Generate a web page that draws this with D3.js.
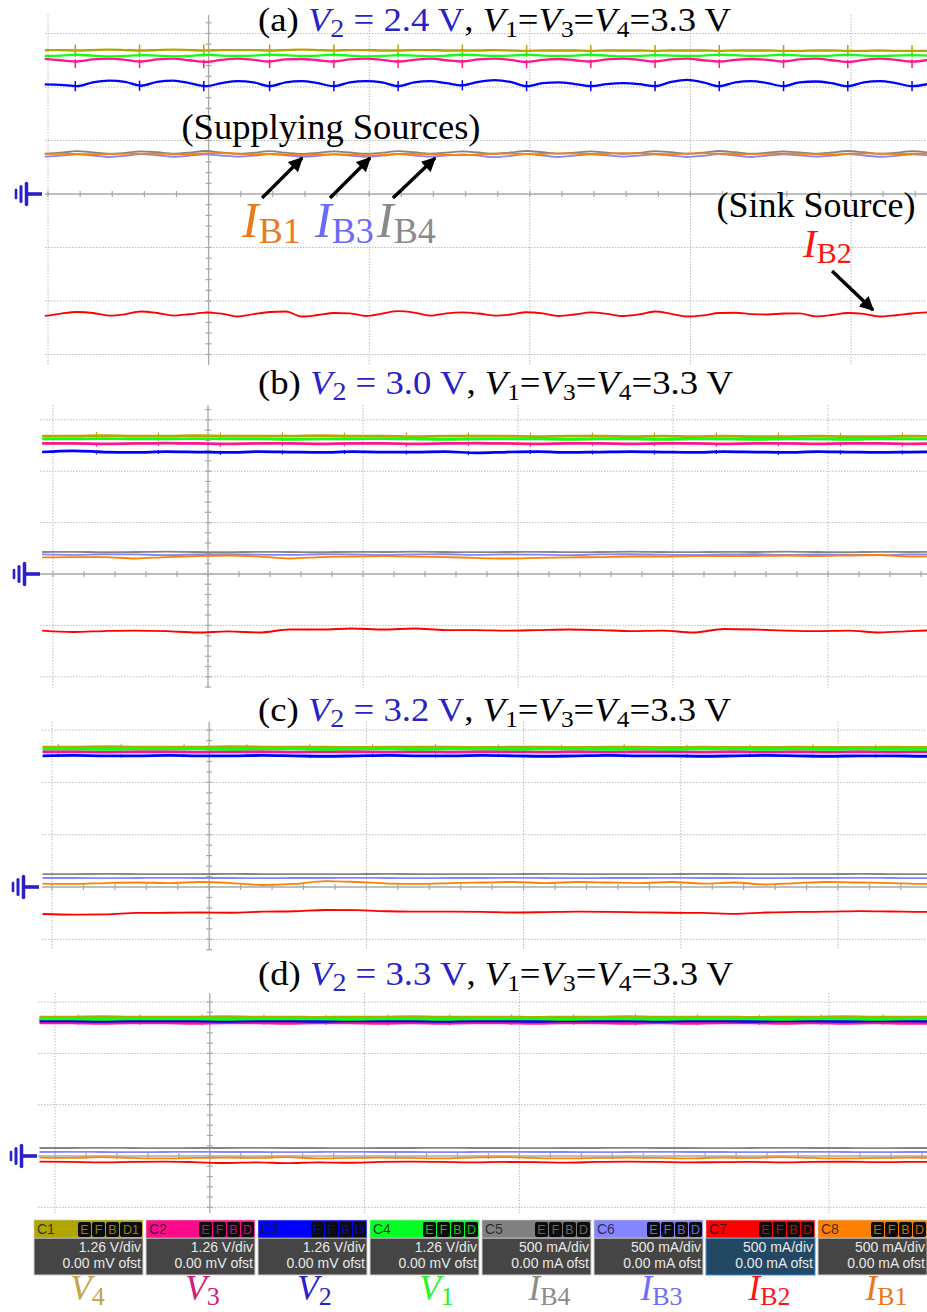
<!DOCTYPE html>
<html><head><meta charset="utf-8">
<script src="https://cdn.jsdelivr.net/npm/d3@7"></script>
<style>body{margin:0;background:#fff}svg{display:block}</style>
</head><body>
<svg id="chart" width="927" height="1312"></svg>
<script>
// ---------------- DATA ----------------
const VOLT_PER_DIV = 1.26;   // V/div
const MA_PER_DIV = 500;      // mA/div
const panelLabels = ['(a)', '(b)', '(c)', '(d)'];
const v2Setpoints = ['2.4', '3.0', '3.2', '3.3'];
const channelNames = ['C1','C2','C3','C4','C5','C6','C7','C8'];
const channelSignals = ['V4','V3','V2','V1','IB4','IB3','IB2','IB1'];
const channelScales = ['1.26 V/div','1.26 V/div','1.26 V/div','1.26 V/div','500 mA/div','500 mA/div','500 mA/div','500 mA/div'];
const channelOffsets = ['0.00 mV ofst','0.00 mV ofst','0.00 mV ofst','0.00 mV ofst','0.00 mA ofst','0.00 mA ofst','0.00 mA ofst','0.00 mA ofst'];

// Panel (a): V2 = 2.4 V  (samples every 0.1 div)
const V4a = [3.39,3.39,3.38,3.39,3.40,3.39,3.38,3.39,3.40,3.39,3.38,3.39,3.39,3.39,3.38,3.39,3.40,3.39,3.38,3.39,3.39,3.38,3.38,3.39,3.39,3.38,3.38,3.38,3.39,3.38,3.37,3.38,3.38,3.38,3.37,3.38,3.38,3.38,3.37,3.38,3.38,3.38,3.37,3.38,3.38,3.38,3.37,3.37,3.38,3.38,3.37,3.37,3.38,3.37,3.37,3.37];
const V1a = [3.25,3.26,3.28,3.26,3.24,3.25,3.27,3.26,3.24,3.25,3.28,3.26,3.25,3.26,3.28,3.27,3.25,3.26,3.28,3.26,3.24,3.25,3.27,3.26,3.24,3.26,3.28,3.27,3.25,3.26,3.28,3.26,3.25,3.26,3.28,3.26,3.24,3.25,3.27,3.26,3.25,3.26,3.28,3.27,3.25,3.26,3.28,3.26,3.25,3.26,3.28,3.26,3.25,3.26,3.27,3.26];
const V3a = [3.18,3.15,3.12,3.17,3.19,3.16,3.12,3.17,3.19,3.15,3.11,3.16,3.19,3.16,3.12,3.17,3.18,3.15,3.12,3.17,3.19,3.16,3.12,3.16,3.19,3.15,3.12,3.17,3.19,3.16,3.11,3.16,3.18,3.15,3.12,3.17,3.19,3.16,3.12,3.17,3.19,3.15,3.12,3.16,3.18,3.16,3.12,3.17,3.19,3.15,3.11,3.16,3.19,3.16,3.12,3.16];
const V2a = [2.58,2.57,2.54,2.63,2.67,2.64,2.55,2.64,2.67,2.61,2.54,2.61,2.66,2.63,2.54,2.63,2.66,2.61,2.54,2.63,2.66,2.63,2.54,2.63,2.66,2.61,2.56,2.64,2.68,2.64,2.54,2.61,2.63,2.59,2.54,2.59,2.61,2.59,2.54,2.64,2.69,2.63,2.54,2.63,2.66,2.61,2.54,2.63,2.65,2.61,2.54,2.63,2.66,2.61,2.54,2.59];
const IB4a = [378,386,400,388,376,384,398,390,378,386,402,388,376,386,400,386,374,384,398,388,376,386,400,390,378,386,398,388,376,388,402,390,378,386,398,386,376,384,400,390,378,386,402,390,376,386,398,388,378,388,402,390,376,386,400,388];
const IB3a = [350,358,370,360,346,356,372,362,348,358,370,360,350,358,372,362,348,356,370,360,348,358,372,360,350,358,370,358,344,356,372,360,346,358,370,362,350,358,370,358,346,356,372,360,346,358,370,362,350,358,372,360,348,356,370,362];
const IB1a = [374,376,374,372,374,375,378,376,374,372,380,382,376,372,374,370,362,366,372,368,360,366,374,376,374,368,364,370,376,378,372,374,380,378,374,376,382,380,376,372,376,380,378,374,372,376,380,376,372,370,376,380,378,374,376,380];
const IB2a = [-1140,-1117,-1103,-1112,-1136,-1124,-1098,-1112,-1136,-1124,-1108,-1117,-1145,-1123,-1103,-1098,-1145,-1131,-1112,-1115,-1140,-1117,-1095,-1108,-1137,-1115,-1106,-1117,-1136,-1126,-1105,-1115,-1140,-1126,-1106,-1120,-1140,-1126,-1098,-1120,-1145,-1134,-1112,-1110,-1122,-1126,-1117,-1115,-1143,-1131,-1112,-1120,-1145,-1133,-1117,-1106];

// Panel (b): V2 = 3.0 V  (samples every 0.2 div)
const V4b = [3.38,3.38,3.39,3.38,3.38,3.39,3.38,3.38,3.38,3.39,3.38,3.38,3.37,3.38,3.38,3.38,3.37,3.38,3.38,3.37,3.38,3.37,3.38,3.37,3.37,3.38,3.37,3.37,3.38,3.37];
const V1b = [3.31,3.31,3.32,3.31,3.31,3.32,3.31,3.31,3.30,3.31,3.31,3.32,3.31,3.30,3.31,3.31,3.31,3.30,3.31,3.31,3.30,3.31,3.31,3.30,3.31,3.31,3.30,3.31,3.31,3.31];
const V3b = [3.20,3.20,3.19,3.20,3.21,3.20,3.19,3.20,3.20,3.19,3.20,3.20,3.19,3.20,3.21,3.20,3.19,3.20,3.20,3.19,3.20,3.20,3.19,3.20,3.20,3.19,3.20,3.20,3.19,3.20];
const V2b = [2.99,3.02,2.99,2.98,3.00,2.99,2.98,3.00,2.99,2.98,3.00,2.99,2.99,3.00,2.97,2.99,3.00,2.98,2.99,3.00,2.99,2.98,3.00,2.99,2.98,3.00,2.99,2.98,2.99,3.00];
const IB4b = [214,216,212,214,218,214,212,216,214,212,216,214,218,214,212,214,216,212,214,218,214,212,216,214,218,214,212,216,214,216];
const IB3b = [190,186,192,190,184,190,192,188,186,192,190,186,190,192,186,190,188,184,190,192,188,186,190,192,186,190,188,184,190,190];
const IB1b = [161,165,165,151,165,175,180,170,151,165,170,175,170,165,156,151,156,161,165,170,170,175,175,175,180,175,180,185,170,175];
const IB2b = [-550,-564,-555,-550,-555,-569,-559,-569,-540,-540,-530,-540,-530,-545,-545,-550,-545,-540,-545,-555,-550,-569,-535,-540,-550,-555,-550,-569,-555,-545];

// Panel (c): V2 = 3.2 V
const V4c = [3.37,3.37,3.38,3.37,3.37,3.37,3.38,3.37,3.37,3.37,3.36,3.37,3.37,3.37,3.36,3.37,3.37,3.36,3.37,3.37,3.36,3.37,3.36,3.36,3.37,3.36,3.36,3.37,3.36,3.36];
const V1c = [3.33,3.33,3.32,3.33,3.33,3.33,3.32,3.33,3.33,3.32,3.33,3.33,3.32,3.33,3.33,3.32,3.33,3.33,3.32,3.33,3.32,3.33,3.33,3.32,3.33,3.32,3.33,3.32,3.32,3.33];
const V3c = [3.26,3.26,3.25,3.26,3.26,3.25,3.26,3.26,3.25,3.26,3.26,3.25,3.26,3.25,3.26,3.26,3.25,3.26,3.25,3.26,3.26,3.25,3.26,3.25,3.26,3.25,3.26,3.25,3.26,3.25];
const V2c = [3.16,3.17,3.16,3.16,3.17,3.16,3.16,3.17,3.16,3.15,3.16,3.17,3.16,3.16,3.17,3.16,3.15,3.16,3.17,3.16,3.16,3.15,3.16,3.17,3.16,3.15,3.16,3.16,3.15,3.16];
const IB4c = [124,124,125,124,123,124,125,124,124,123,124,125,124,124,123,124,125,124,124,123,124,125,124,123,124,124,125,124,123,124];
const IB3c = [86,86,85,86,87,86,86,85,86,86,87,86,85,86,86,87,86,85,86,86,87,86,86,85,86,86,87,86,85,86];
const IB1c = [33,29,38,43,38,48,38,19,29,57,48,33,29,38,43,48,38,48,43,38,48,33,43,24,38,48,43,38,29,38];
const IB2c = [-258,-264,-262,-248,-246,-244,-246,-236,-232,-220,-222,-232,-236,-236,-238,-244,-240,-236,-238,-242,-246,-248,-256,-244,-238,-236,-230,-234,-238,-236];

// Panel (d): V2 = 3.3 V
const V4d = [3.41,3.41,3.42,3.41,3.41,3.41,3.42,3.41,3.41,3.40,3.41,3.41,3.42,3.41,3.41,3.41,3.40,3.41,3.41,3.42,3.41,3.41,3.41,3.40,3.41,3.41,3.42,3.41,3.41,3.41];
const V1d = [3.37,3.37,3.36,3.37,3.37,3.37,3.36,3.37,3.37,3.37,3.36,3.37,3.37,3.36,3.37,3.37,3.37,3.36,3.37,3.37,3.36,3.37,3.37,3.37,3.36,3.37,3.37,3.36,3.37,3.37];
const V2d = [3.32,3.32,3.31,3.32,3.32,3.32,3.31,3.32,3.32,3.31,3.32,3.32,3.32,3.31,3.32,3.32,3.31,3.32,3.32,3.32,3.31,3.32,3.32,3.31,3.32,3.32,3.31,3.32,3.32,3.31];
const V3d = [3.27,3.27,3.26,3.27,3.27,3.26,3.27,3.27,3.26,3.27,3.27,3.26,3.27,3.26,3.27,3.27,3.26,3.27,3.27,3.26,3.27,3.26,3.27,3.27,3.26,3.27,3.26,3.27,3.26,3.26];
const IB4d = [78,78,79,78,77,78,78,79,78,78,77,78,78,79,78,78,77,78,78,79,78,78,77,78,79,78,78,77,78,78];
const IB3d = [39,40,39,38,39,40,39,39,38,39,40,39,39,38,39,40,39,39,38,39,40,39,39,38,39,40,39,38,39,39];
const IB1d = [-15,-19,-10,-19,-24,-19,-15,-19,-10,-24,-19,-15,-19,-24,-15,-10,-19,-24,-19,-15,-19,-24,-15,-19,-10,-19,-24,-19,-15,-19];
const IB2d = [-55,-58,-62,-58,-55,-60,-68,-62,-70,-62,-66,-58,-55,-58,-62,-58,-60,-64,-58,-55,-58,-62,-60,-58,-62,-58,-56,-60,-58,-56];

// switching spikes (time in div)
const spikeTa = [0.17,0.57,0.97,1.38,1.78,2.18,2.58,2.98,3.38,3.78,4.18,4.58,4.98,5.38];
const spikeTb = [0.28,0.68,1.08,1.48,1.88,2.28,2.68,3.08,3.48,3.88,4.28,4.68,5.08,5.48];
const spikeTc = [0.04,0.44,0.84,1.24,1.64,2.04,2.44,2.84,3.24,3.64,4.04,4.44,4.84,5.24];
const spikeTd = [0.15,0.55,0.95,1.35,1.75,2.15,2.55,2.95,3.35,3.75,4.15,4.55,4.95,5.35];
// spike extent [down, up] in V
const spikeExtA = {V4:[-0.08,0.14], V1:[-0.05,0.05], V3:[-0.15,0.05], V2:[-0.12,0.12]};
const spikeExtB = {V4:[-0.03,0.09], V1:[-0.03,0.03], V3:[-0.07,0.03], V2:[-0.06,0.04]};
const spikeExtC = {V4:[-0.02,0.07], V1:[-0.02,0.02], V3:[-0.04,0.02], V2:[-0.04,0.03]};
const spikeExtD = {V4:[-0.02,0.07], V1:[-0.02,0.02], V3:[-0.05,0.02], V2:[-0.04,0.03]};

// ---------------- LAYOUT / STYLE ----------------
const W = 927;
const layouts = [
  {x0:48, xdiv:160.6, y0:194,  ydiv:53.5, top:15,  bottom:365,  left:45, below:3, gx:15, titleY:31,  t0:-0.02, dt:0.1, vw:2.3, sw:1.5},
  {x0:53, xdiv:155,   y0:574,  ydiv:51.4, top:405, bottom:688,  left:40, below:2, gx:13, titleY:394, t0:-0.07, dt:0.2, vw:2.7, sw:1.1},
  {x0:52, xdiv:157.2, y0:887,  ydiv:52.3, top:722, bottom:950,  left:42, below:1, gx:12, titleY:721, t0:-0.06, dt:0.2, vw:2.9, sw:1.0},
  {x0:55, xdiv:154.8, y0:1156, ydiv:51.3, top:993, bottom:1213, left:38, below:1, gx:10, titleY:985, t0:-0.10, dt:0.2, vw:3.0, sw:1.0}
];
const panelData = [
  {V4:V4a, V1:V1a, V3:V3a, V2:V2a, IB4:IB4a, IB3:IB3a, IB1:IB1a, IB2:IB2a},
  {V4:V4b, V1:V1b, V3:V3b, V2:V2b, IB4:IB4b, IB3:IB3b, IB1:IB1b, IB2:IB2b},
  {V4:V4c, V1:V1c, V3:V3c, V2:V2c, IB4:IB4c, IB3:IB3c, IB1:IB1c, IB2:IB2c},
  {V4:V4d, V1:V1d, V3:V3d, V2:V2d, IB4:IB4d, IB3:IB3d, IB1:IB1d, IB2:IB2d}
];
const spikeTimes = [spikeTa, spikeTb, spikeTc, spikeTd];
const spikeExts = [spikeExtA, spikeExtB, spikeExtC, spikeExtD];
const drawOrder = ['V3','V2','V4','V1','IB4','IB3','IB1','IB2'];
const traceColor = {V4:'#b5a500', V3:'#ff168e', V2:'#0000ff', V1:'#12ff12', IB4:'#858585', IB3:'#8585ff', IB2:'#ff0000', IB1:'#ff8200'};
const headerColor = ['#b1a500','#ff0a8a','#0000ff','#00ff22','#808080','#8585ff','#ff0000','#ff8000'];
const labelColor = ['#c4a44e','#d3207a','#2b1fc8','#2af52a','#8c8c8c','#6e6eff','#ff1515','#e8791f'];
const SERIF = "'Liberation Serif','Times New Roman',serif";
const SANS = "'Liberation Sans',Arial,sans-serif";
const TITLE_BLUE = '#2b1fc8';

const svg = d3.select('#chart');
svg.append('rect').attr('width', W).attr('height', 1312).attr('fill', '#fff');

function richText(g, parts, size) {
  let prevDy = 0;
  parts.forEach(p => {
    const dy = (p.sub ? 6 : 0);
    g.append('tspan').text(p.t)
      .attr('fill', p.c || '#000')
      .attr('font-style', p.i ? 'italic' : 'normal')
      .attr('font-size', p.fs || size)
      .attr('dy', dy - prevDy);
    prevDy = dy;
  });
}

const scalesByPanel = [];
layouts.forEach((L, pi) => {
  const x = d3.scaleLinear().domain([0, 1]).range([L.x0, L.x0 + L.xdiv]);
  const yV = d3.scaleLinear().domain([0, VOLT_PER_DIV]).range([L.y0, L.y0 - L.ydiv]);
  const yI = d3.scaleLinear().domain([0, MA_PER_DIV]).range([L.y0, L.y0 - L.ydiv]);
  const yDiv = d3.scaleLinear().domain([0, 1]).range([L.y0, L.y0 - L.ydiv]);
  scalesByPanel.push({x, yV, yI});
  const g = svg.append('g');
  const tMax = x.invert(W);

  // dotted horizontal grid
  g.selectAll('line.hg').data(d3.range(-L.below, 4).filter(d => d !== 0)).join('line')
    .attr('x1', L.left).attr('x2', W)
    .attr('y1', d => yDiv(d)).attr('y2', d => yDiv(d))
    .attr('stroke', '#bcbcbc').attr('stroke-width', 1).attr('stroke-dasharray', '1.5,1.5');
  // dotted vertical grid
  g.selectAll('line.vg').data(d3.range(0, Math.floor(tMax) + 1).filter(d => d !== 1)).join('line')
    .attr('x1', d => x(d)).attr('x2', d => x(d))
    .attr('y1', L.top).attr('y2', L.bottom)
    .attr('stroke', '#bcbcbc').attr('stroke-width', 1).attr('stroke-dasharray', '1.5,1.5');
  // center axes
  g.append('line').attr('x1', L.left).attr('x2', W).attr('y1', L.y0).attr('y2', L.y0)
    .attr('stroke', '#a9a9a9').attr('stroke-width', 1.3);
  g.append('line').attr('x1', x(1)).attr('x2', x(1)).attr('y1', L.top).attr('y2', L.bottom)
    .attr('stroke', '#a9a9a9').attr('stroke-width', 1.3);
  g.selectAll('line.ht').data(d3.range(0, tMax, 0.2)).join('line')
    .attr('x1', d => x(d)).attr('x2', d => x(d)).attr('y1', L.y0 - 3).attr('y2', L.y0 + 3)
    .attr('stroke', '#a9a9a9').attr('stroke-width', 1.2);
  g.selectAll('line.vt').data(d3.range(-L.below - 0.2, 3.3, 0.2).filter(d => yDiv(d) > L.top && yDiv(d) < L.bottom)).join('line')
    .attr('x1', x(1) - 3).attr('x2', x(1) + 3).attr('y1', d => yDiv(d)).attr('y2', d => yDiv(d))
    .attr('stroke', '#a9a9a9').attr('stroke-width', 1.2);

  // traces
  const data = panelData[pi];
  const tAt = i => L.t0 + i * L.dt;
  drawOrder.forEach(ch => {
    const vals = data[ch];
    const isV = ch[0] === 'V';
    const ys = isV ? yV : yI;
    const line = d3.line().x((d, i) => x(tAt(i))).y(d => ys(d)).curve(d3.curveMonotoneX);
    g.append('path').attr('d', line(vals)).attr('fill', 'none')
      .attr('stroke', traceColor[ch]).attr('stroke-width', isV ? L.vw : 1.8)
      .attr('stroke-linejoin', 'round');
    if (isV) {
      const ext = spikeExts[pi][ch];
      g.selectAll(null).data(spikeTimes[pi].filter(t => x(t) < W)).join('line')
        .each(function(t) {
          const i = Math.max(0, Math.min(vals.length - 1, Math.round((t - L.t0) / L.dt)));
          const base = vals[i];
          d3.select(this).attr('x1', x(t)).attr('x2', x(t))
            .attr('y1', yV(base + ext[0])).attr('y2', yV(base + ext[1]));
        })
        .attr('stroke', traceColor[ch]).attr('stroke-width', L.sw);
    }
  });

  // ground marker
  const gm = svg.append('g').attr('stroke', '#2b1fc8').attr('stroke-linecap', 'round');
  gm.append('line').attr('x1', L.gx + 1).attr('x2', L.gx + 1).attr('y1', L.y0 - 4).attr('y2', L.y0 + 4).attr('stroke-width', 2.6);
  gm.append('line').attr('x1', L.gx + 6).attr('x2', L.gx + 6).attr('y1', L.y0 - 7.5).attr('y2', L.y0 + 7.5).attr('stroke-width', 3);
  gm.append('line').attr('x1', L.gx + 11.5).attr('x2', L.gx + 11.5).attr('y1', L.y0 - 10.5).attr('y2', L.y0 + 10.5).attr('stroke-width', 3.5);
  gm.append('line').attr('x1', L.gx + 11.5).attr('x2', L.gx + 27).attr('y1', L.y0).attr('y2', L.y0).attr('stroke-width', 3.6).attr('stroke-linecap', 'butt');

  // title (slightly widened, like the reference lettering)
  const tt = svg.append('text').attr('x', 0).attr('y', 0)
    .attr('transform', `translate(258,${L.titleY}) scale(1.08,1)`)
    .attr('font-family', SERIF).attr('font-size', 34);
  richText(tt, [
    {t: panelLabels[pi] + ' '},
    {t: 'V', i: true, c: TITLE_BLUE},
    {t: '2', sub: true, c: TITLE_BLUE, fs: 26},
    {t: ' = ' + v2Setpoints[pi] + ' V', c: TITLE_BLUE},
    {t: ', '},
    {t: 'V', i: true}, {t: '1', sub: true, fs: 23.5}, {t: '='},
    {t: 'V', i: true}, {t: '3', sub: true, fs: 23.5}, {t: '='},
    {t: 'V', i: true}, {t: '4', sub: true, fs: 23.5}, {t: '=3.3 V'}
  ], 34);
});

// ---------------- ANNOTATIONS (panel a, data coordinates) ----------------
const A = scalesByPanel[0];
const supplyArrows = [[1.333, -37, 1.582, 336], [1.756, -37, 2.005, 336], [2.148, -37, 2.410, 336]];
const sinkArrow = [4.882, -720, 5.137, -1084];
svg.append('defs').append('marker').attr('id', 'ah').attr('viewBox', '0 0 10 10')
  .attr('refX', 9).attr('refY', 5).attr('markerWidth', 4.2).attr('markerHeight', 4.2)
  .attr('orient', 'auto').attr('markerUnits', 'strokeWidth')
  .append('path').attr('d', 'M0,0 L10,5 L0,10 z').attr('fill', '#000');
[...supplyArrows, sinkArrow].forEach(a => {
  svg.append('line').attr('x1', A.x(a[0])).attr('y1', A.yI(a[1]))
    .attr('x2', A.x(a[2])).attr('y2', A.yI(a[3]))
    .attr('stroke', '#000').attr('stroke-width', 3.4).attr('marker-end', 'url(#ah)');
});
svg.append('text').attr('x', A.x(1.762)).attr('y', A.yI(514)).attr('text-anchor', 'middle')
  .attr('font-family', SERIF).attr('font-size', 36.5).text('(Supplying Sources)');
svg.append('text').attr('x', A.x(4.782)).attr('y', A.yI(-218)).attr('text-anchor', 'middle')
  .attr('font-family', SERIF).attr('font-size', 36).text('(Sink Source)');
const annLabels = [
  {sub: 'B1', t: 1.208, v: -402, c: '#ea7a1e', fsI: 50, fsS: 36},
  {sub: 'B3', t: 1.663, v: -402, c: '#6b6bff', fsI: 50, fsS: 36},
  {sub: 'B4', t: 2.049, v: -402, c: '#8a8a8a', fsI: 50, fsS: 36},
  {sub: 'B2', t: 4.701, v: -590, c: '#ff1414', fsI: 41, fsS: 30}
];
annLabels.forEach(l => {
  const t = svg.append('text').attr('x', A.x(l.t)).attr('y', A.yI(l.v))
    .attr('font-family', SERIF).attr('fill', l.c);
  t.append('tspan').text('I').attr('font-style', 'italic').attr('font-size', l.fsI);
  t.append('tspan').text(l.sub).attr('font-size', l.fsS).attr('dy', 6);
});

// ---------------- CHANNEL LEGEND ----------------
const boxX = d3.scaleLinear().domain([0, 1]).range([34, 146]);
const labelShift = [-1, 2, 2, 12, 13, 13, 9, 14];
channelNames.forEach((name, i) => {
  const bx = boxX(i), bw = 109;
  const g = svg.append('g');
  const selected = i === 6;
  g.append('rect').attr('x', bx).attr('y', 1238).attr('width', bw).attr('height', 37)
    .attr('fill', selected ? '#234864' : '#454545')
    .attr('stroke', selected ? '#3a93e0' : '#d0d0d0').attr('stroke-width', 1);
  g.append('rect').attr('x', bx).attr('y', 1220).attr('width', bw).attr('height', 18)
    .attr('fill', headerColor[i]).attr('stroke', '#d0d0d0').attr('stroke-width', 0.6);
  g.append('text').attr('x', bx + 3).attr('y', 1234).attr('font-family', SANS).attr('font-size', 14)
    .attr('fill', '#1b1b1b').attr('fill-opacity', 0.85).text(name);
  const badges = i === 0 ? ['E','F','B','D1'] : ['E','F','B','D'];
  const widths = badges.map(b => b.length > 1 ? 22 : 13);
  let cx = bx + bw - 1 - d3.sum(widths) - (badges.length - 1);
  badges.forEach((b, k) => {
    g.append('rect').attr('x', cx).attr('y', 1222).attr('width', widths[k]).attr('height', 15)
      .attr('rx', 2).attr('fill', '#0c0c0c');
    g.append('text').attr('x', cx + widths[k] / 2).attr('y', 1234).attr('text-anchor', 'middle')
      .attr('font-family', SANS).attr('font-size', 12.5).attr('fill', headerColor[i]).attr('fill-opacity', 0.8).text(b);
    cx += widths[k] + 1;
  });
  g.append('text').attr('x', bx + bw - 2).attr('y', 1252).attr('text-anchor', 'end')
    .attr('font-family', SANS).attr('font-size', 14).attr('fill', '#e8e8e8').text(channelScales[i]);
  g.append('text').attr('x', bx + bw - 2).attr('y', 1268).attr('text-anchor', 'end')
    .attr('font-family', SANS).attr('font-size', 14).attr('fill', '#e8e8e8').text(channelOffsets[i]);
  // signal label
  const sig = channelSignals[i];
  const lt = svg.append('text').attr('x', bx + bw / 2 + labelShift[i]).attr('y', 1300)
    .attr('text-anchor', 'middle').attr('font-family', SERIF).attr('fill', labelColor[i]);
  lt.append('tspan').text(sig[0]).attr('font-style', 'italic').attr('font-size', 35);
  lt.append('tspan').text(sig.slice(1)).attr('font-size', 26).attr('dy', 5);
});
</script>
</body></html>
